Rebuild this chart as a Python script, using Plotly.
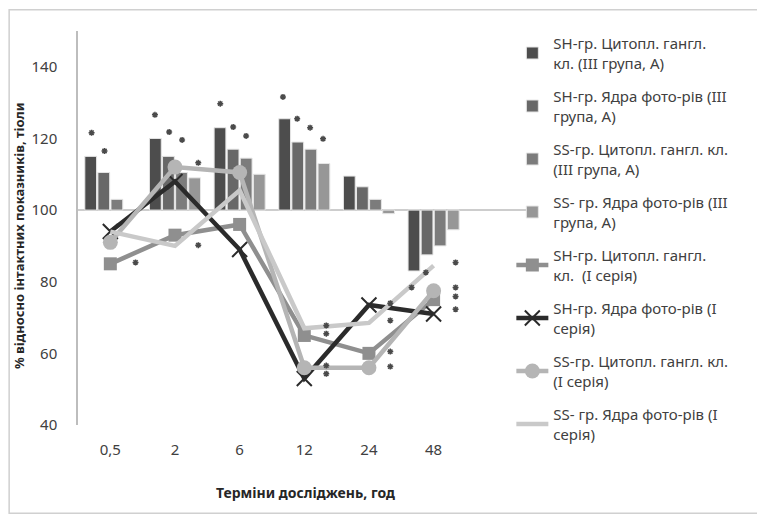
import plotly.graph_objects as go

# ---------------- data ----------------
categories = ["0,5", "2", "6", "12", "24", "48"]
x_idx = list(range(len(categories)))

# bars (III група, А) – % of intact values
sh_cyt_III = [115, 120, 123, 125.5, 109.5, 83]
sh_nuc_III = [110.5, 115, 117, 119, 106.5, 87.5]
ss_cyt_III = [103, 110.5, 114.5, 117, 103, 90]
ss_nuc_III = [None, 109, 110, 113, 99, 94.5]

# lines (I серія)
sh_cyt_I = [85, 93, 96, 65, 60, 75]
sh_nuc_I = [94, 108, 89, 53, 73.5, 71]
ss_cyt_I = [91, 112, 110.5, 56, 56, 77.5]
ss_nuc_I = [94, 90, 105.5, 67, 68.5, 84.5]

# significance marks: (category index, offset within category, value)
star_cat = [0, 0, 0, 1, 1, 1, 1, 1, 2, 2, 2, 3, 3, 3, 3, 3, 3, 3, 3,
            4, 4, 4, 4, 5, 5, 5, 5, 5, 5]
star_off = [-0.29, -0.09, 0.39, -0.31, -0.09, 0.11, 0.36, 0.36, -0.30, -0.10, 0.10,
            -0.33, -0.11, 0.09, 0.29, 0.34, 0.34, 0.34, 0.34,
            0.33, 0.33, 0.33, 0.33, 0.34, 0.34, 0.34, 0.34, -0.12, -0.34]
star_val = [121.6, 116.5, 85.4, 126.6, 121.8, 119.6, 113.2, 90.2, 129.7, 123.2, 120.7,
            131.6, 125.5, 123.0, 119.9, 67.8, 65.5, 56.6, 54.3,
            74.0, 69.2, 60.5, 56.3, 85.4, 78.4, 75.9, 72.3, 82.6, 78.4]

BASE = 100
FONT = "Noto Sans"
TXT = "#404040"

fig = go.Figure()

bar_specs = [
    ("SH-гр. Цитопл. гангл.<br>кл. (III група, А)", sh_cyt_III, "#4d4d4d"),
    ("SH-гр. Ядра фото-рів (III<br>група, А)", sh_nuc_III, "#686868"),
    ("SS-гр. Цитопл. гангл. кл.<br>(III група, А)", ss_cyt_III, "#7c7c7c"),
    ("SS- гр. Ядра фото-рів (III<br>група, А)", ss_nuc_III, "#979797"),
]
for i, (name, vals, col) in enumerate(bar_specs):
    fig.add_trace(go.Bar(
        x=x_idx,
        y=[None if v is None else v - BASE for v in vals],
        base=BASE,
        name=name,
        marker=dict(color=col, line=dict(color="#e6e6e6", width=1)),
        legendgroup=f"g{i}",
    ))

line_specs = [
    ("SH-гр. Цитопл. гангл.<br>кл.  (I серія)", sh_cyt_I, "#8f8f8f",
     dict(symbol="square", size=13, color="#8f8f8f")),
    ("SH-гр. Ядра фото-рів (I<br>серія)", sh_nuc_I, "#2b2b2b",
     dict(symbol="x-thin-open", size=15, color="#2b2b2b", line=dict(width=2, color="#2b2b2b"))),
    ("SS-гр. Цитопл. гангл. кл.<br>(I серія)", ss_cyt_I, "#b5b5b5",
     dict(symbol="circle", size=15, color="#b5b5b5")),
    ("SS- гр. Ядра фото-рів (I<br>серія)", ss_nuc_I, "#c9c9c9", None),
]
for j, (name, vals, col, mk) in enumerate(line_specs):
    fig.add_trace(go.Scatter(
        x=x_idx, y=vals, name=name,
        mode="lines+markers" if mk else "lines",
        line=dict(color=col, width=4.5),
        marker=mk if mk else None,
        legendgroup=f"g{j+4}",
    ))

fig.add_trace(go.Scatter(
    x=[c + o for c, o in zip(star_cat, star_off)], y=star_val,
    mode="markers", showlegend=False, hoverinfo="skip",
    marker=dict(symbol="asterisk-open", size=5, color="#4a4a4a",
                line=dict(width=1.5, color="#4a4a4a")),
))

# horizontal reference line at 100 (category axis crossing)
fig.add_shape(type="line", xref="x", yref="y", x0=-0.5, x1=6.46, y0=BASE, y1=BASE,
              line=dict(color="#bdbdbd", width=1.5), layer="below")
# chart border
fig.add_shape(type="rect", xref="paper", yref="paper", x0=-0.153, x1=1.54, y0=-0.224, y1=1.054,
              line=dict(color="#d0d0d0", width=1.5))

fig.update_layout(
    width=765, height=518,
    margin=dict(l=70, r=245, t=23, b=101, autoexpand=False),
    paper_bgcolor="white", plot_bgcolor="white",
    barmode="group", bargap=0.19, bargroupgap=0.1,
    font=dict(family=FONT, size=14, color=TXT),
    showlegend=True,
    legend=dict(x=0.963, xanchor="left", y=1 - 19 / 518, yanchor="top", yref="container",
                font=dict(family=FONT, size=15, color=TXT),
                tracegroupgap=11, itemwidth=32, bgcolor="rgba(0,0,0,0)", maxheight=1),
    xaxis=dict(range=[-0.5, 6.46], tickmode="array", tickvals=x_idx, ticktext=categories,
               showline=False, showgrid=False, zeroline=False, ticks="",
               ticklabelstandoff=14, tickfont=dict(size=15, color=TXT)),
    yaxis=dict(range=[40, 150], tickvals=[40, 60, 80, 100, 120, 140],
               showline=True, linecolor="#bdbdbd", linewidth=1.5,
               showgrid=False, zeroline=False, ticks="",
               ticklabelstandoff=16, tickfont=dict(size=15, color=TXT)),
    annotations=[
        dict(text="<b>% відносно інтактних показників, тіоли</b>", textangle=-90,
             xref="paper", yref="paper", x=(19 - 78) / 450, y=(425 - 236) / 394,
             xanchor="center", yanchor="middle",
             showarrow=False, font=dict(size=13, color="#262626")),
        dict(text="<b>Терміни досліджень, год</b>",
             xref="paper", yref="paper", x=(305 - 78) / 450, y=(425 - 492) / 394,
             xanchor="center", yanchor="middle",
             showarrow=False, font=dict(size=14, color="#262626")),
    ],
)

fig.write_html("out.html")
